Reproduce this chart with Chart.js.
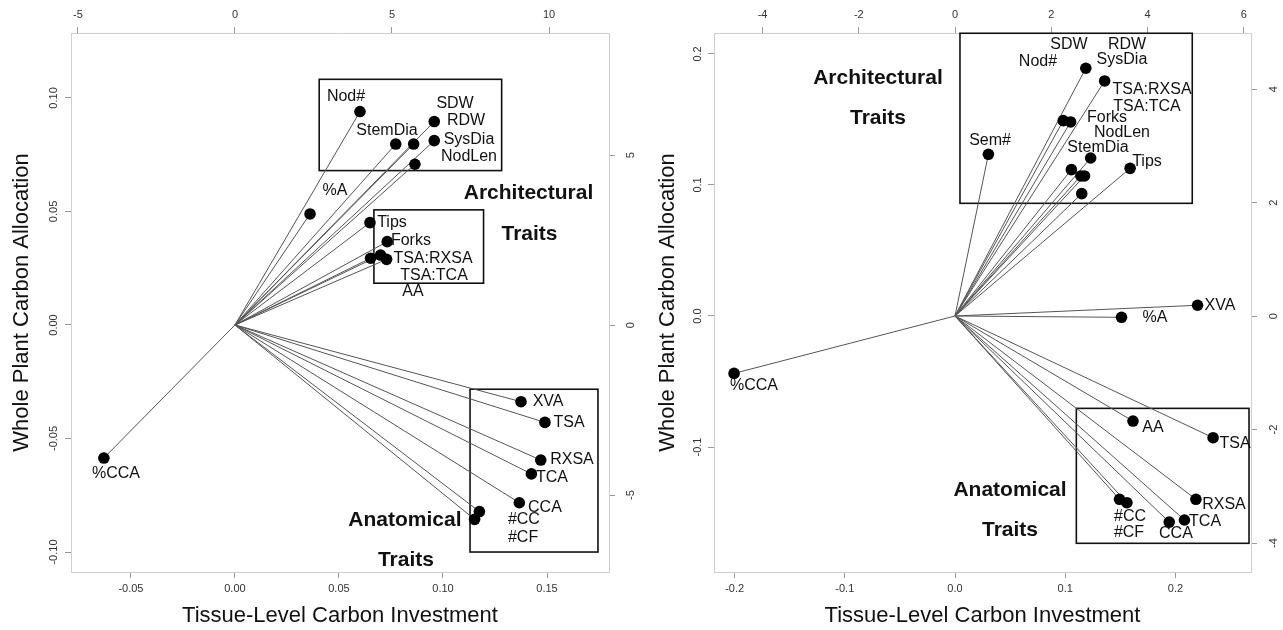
<!DOCTYPE html>
<html>
<head>
<meta charset="utf-8">
<script src="https://cdn.jsdelivr.net/npm/chart.js@4.4.0/dist/chart.umd.min.js"></script>
<style>
  body { margin: 0; background: #fff; }
  #wrap { position: relative; width: 1283px; height: 630px; }
  #leftChart { position: absolute; left: 0; top: 0; }
  #rightChart { position: absolute; left: 640px; top: 0; }
</style>
</head>
<body>
<div id="wrap">
  <canvas id="leftChart" width="640" height="630"></canvas>
  <canvas id="rightChart" width="643" height="630"></canvas>
</div>
<script>
// ---- left panel : trait loadings ----
const leftTraitX = [0.0601, 0.0958, 0.0773, 0.0859, 0.0958, 0.0865, 0.0361, 0.0649, 0.0732, 0.0652, 0.0700, 0.0729,
  0.1375, 0.1490, 0.1470, 0.1425, 0.1367, 0.1175, 0.1152, -0.0630];
const leftTraitY = [0.0940, 0.0896, 0.0797, 0.0797, 0.0812, 0.0708, 0.0489, 0.0451, 0.0367, 0.0294, 0.0308, 0.0289,
  -0.0338, -0.0429, -0.0595, -0.0656, -0.0783, -0.0822, -0.0856, -0.0586];

// trait names and where they were written
const leftLabels = ['Nod#', 'SDW', 'RDW', 'StemDia', 'SysDia', 'NodLen', '%A', 'Tips', 'Forks', 'TSA:RXSA', 'TSA:TCA', 'AA',
  'XVA', 'TSA', 'RXSA', 'TCA', 'CCA', '#CC', '#CF', '%CCA'];
const leftLabelX = [0.0534, 0.1058, 0.1111, 0.0731, 0.1125, 0.1125, 0.0481, 0.0755, 0.0846, 0.0952, 0.0957, 0.0856,
  0.1505, 0.1606, 0.1620, 0.1524, 0.1490, 0.1389, 0.1385, -0.0572];
const leftLabelY = [0.1004, 0.0974, 0.0899, 0.0855, 0.0815, 0.0740, 0.0590, 0.0449, 0.0370, 0.0291, 0.0216, 0.0145,
  -0.0339, -0.0432, -0.0595, -0.0670, -0.0806, -0.0859, -0.0938, -0.0656];

const leftGroups = ['Architectural', 'Traits', 'Anatomical', 'Traits'];
const leftGroupX = [0.1411, 0.1416, 0.0817, 0.0822];
const leftGroupY = [0.0581, 0.0401, -0.0859, -0.1035];

// boxes : [x1, y1, x2, y2]
const leftBoxes = [[0.0405, 0.1082, 0.1282, 0.0680], [0.0668, 0.0507, 0.1195, 0.0184], [0.1130, -0.0283, 0.1745, -0.1000]];

const leftXTicks = [-0.05, 0, 0.05, 0.10, 0.15];
const leftXTickLabels = ['-0.05', '0.00', '0.05', '0.10', '0.15'];
const leftYTicks = [-0.10, -0.05, 0, 0.05, 0.10];
const leftYTickLabels = ['-0.10', '-0.05', '0.00', '0.05', '0.10'];
const leftTopTicks = [-5, 0, 5, 10];
const leftRightTicks = [-5, 0, 5];

// ---- right panel ----
const rightTraitX = [0.0303, 0.1187, 0.1358, 0.0982, 0.1049, 0.1231, 0.1056, 0.1142, 0.1175, 0.1150, 0.1589,
  0.2201, 0.1511, -0.2005, 0.1615, 0.2342, 0.2186, 0.1493, 0.1560, 0.2082, 0.1944];
const rightTraitY = [0.1234, 0.1891, 0.1794, 0.1491, 0.1481, 0.1206, 0.1117, 0.1069, 0.1069, 0.0934, 0.1127,
  0.0082, -0.0010, -0.0438, -0.0802, -0.0929, -0.1399, -0.1399, -0.1425, -0.1557, -0.1573];

const rightLabels = ['SDW', 'RDW', 'Nod#', 'SysDia', 'TSA:RXSA', 'TSA:TCA', 'Forks', 'NodLen', 'StemDia', 'Tips', 'Sem#',
  'XVA', '%A', '%CCA', 'AA', 'TSA', 'RXSA', 'TCA', 'CCA', '#CC', '#CF'];
const rightLabelX = [0.1034, 0.1561, 0.0753, 0.1515, 0.1788, 0.1742, 0.1379, 0.1515, 0.1298, 0.1742, 0.0318,
  0.2405, 0.1815, -0.1824, 0.1797, 0.2541, 0.2441, 0.2269, 0.2005, 0.1588, 0.1579];
const rightLabelY = [0.2069, 0.2069, 0.1939, 0.1954, 0.1725, 0.1595, 0.1511, 0.1397, 0.1282, 0.1176, 0.1336,
  0.0076, -0.0015, -0.0534, -0.0855, -0.0977, -0.1443, -0.1573, -0.1664, -0.1534, -0.1656];

const rightGroups = ['Architectural', 'Traits', 'Anatomical', 'Traits'];
const rightGroupX = [-0.0699, -0.0699, 0.0499, 0.0499];
const rightGroupY = [0.1817, 0.1511, -0.1328, -0.1634];

const rightBoxes = [[0.0045, 0.2158, 0.2153, 0.0860], [0.1101, -0.0705, 0.2668, -0.1735]];

const rightXTicks = [-0.2, -0.1, 0, 0.1, 0.2];
const rightXTickLabels = ['-0.2', '-0.1', '0.0', '0.1', '0.2'];
const rightYTicks = [-0.1, 0, 0.1, 0.2];
const rightYTickLabels = ['-0.1', '0.0', '0.1', '0.2'];
const rightTopTicks = [-4, -2, 0, 2, 4, 6];
const rightRightTicks = [-4, -2, 0, 2, 4];

const xTitle = 'Tissue-Level Carbon Investment';
const yTitle = 'Whole Plant Carbon Allocation';

Chart.defaults.font.family = '"Liberation Sans", Arial, sans-serif';
Chart.defaults.color = '#222';

// text + boxes drawn on top of the plot
const annotationPlugin = {
  id: 'annotations',
  beforeDatasetsDraw(chart, args, opts) {
    const { ctx, scales: { x, y } } = chart;
    ctx.save();
    ctx.strokeStyle = '#111';
    ctx.lineWidth = 1.6;
    opts.boxes.forEach(b => {
      const x1 = x.getPixelForValue(b[0]), y1 = y.getPixelForValue(b[1]);
      const x2 = x.getPixelForValue(b[2]), y2 = y.getPixelForValue(b[3]);
      ctx.strokeRect(x1, y1, x2 - x1, y2 - y1);
    });
    ctx.restore();
  },
  afterDatasetsDraw(chart, args, opts) {
    const { ctx, scales: { x, y } } = chart;
    ctx.save();
    ctx.textAlign = 'center';
    ctx.textBaseline = 'middle';
    ctx.fillStyle = '#111';
    ctx.font = '16px "Liberation Sans", Arial, sans-serif';
    opts.labels.forEach((t, i) => {
      ctx.fillText(t, x.getPixelForValue(opts.labelX[i]), y.getPixelForValue(opts.labelY[i]));
    });
    ctx.font = 'bold 21px "Liberation Sans", Arial, sans-serif';
    opts.groups.forEach((t, i) => {
      ctx.fillText(t, x.getPixelForValue(opts.groupX[i]), y.getPixelForValue(opts.groupY[i]));
    });
    ctx.restore();
  }
};

function fixedTicks(vals) {
  return s => { s.ticks = vals.map(v => ({ value: v })); };
}

function makeScale(position, min, max, vals, labels, size, pad, title, titlePad) {
  const vertical = position === 'left' || position === 'right';
  const sc = {
    type: 'linear',
    position: position,
    min: min,
    max: max,
    afterBuildTicks: fixedTicks(vals),
    afterFit: s => { if (vertical) s.width = size; else s.height = size; },
    grid: { drawOnChartArea: false, drawTicks: true, tickLength: 6, color: '#999' },
    border: { display: true, color: '#cfcfcf', width: 1 },
    ticks: {
      font: { size: 11 },
      color: '#333',
      padding: pad,
      callback: (v, i) => labels[i]
    },
    title: { display: !!title, text: title, font: { size: 22 }, color: '#111', padding: titlePad }
  };
  if (vertical) {
    sc.ticks.minRotation = 90;
    sc.ticks.maxRotation = 90;
    sc.ticks.crossAlign = 'center';
  }
  return sc;
}

function makePanel(canvas, p) {
  const vectors = [];
  p.xs.forEach((x, i) => {
    vectors.push({ x: 0, y: 0 }, { x: x, y: p.ys[i] }, { x: x, y: null });
  });
  return new Chart(canvas, {
    type: 'scatter',
    data: {
      datasets: [
        {
          data: p.xs.map((x, i) => ({ x: x, y: p.ys[i] })),
          pointRadius: 5.8,
          pointBackgroundColor: '#000',
          pointBorderWidth: 0
        },
        {
          data: vectors,
          showLine: true,
          spanGaps: false,
          pointRadius: 0,
          borderColor: '#555',
          borderWidth: 1
        }
      ]
    },
    options: {
      responsive: false,
      animation: false,
      layout: { padding: 0 },
      plugins: {
        legend: { display: false },
        tooltip: { enabled: false },
        annotations: p.notes
      },
      scales: {
        x: makeScale('bottom', p.xMin, p.xMax, p.xTicks, p.xTickLabels, 58, 4, xTitle, { top: 0, bottom: 1 }),
        y: makeScale('left', p.yMin, p.yMax, p.yTicks, p.yTickLabels, p.leftW, p.yPad, yTitle, { top: p.yTitlePad, bottom: 0 }),
        x2: makeScale('top', p.x2Min, p.x2Max, p.topTicks, p.topTicks.map(String), 33, 5, '', 0),
        y2: makeScale('right', p.y2Min, p.y2Max, p.rightTicks, p.rightTicks.map(String), p.rightW, p.y2Pad, '', 0)
      }
    },
    plugins: [annotationPlugin]
  });
}

makePanel(document.getElementById('leftChart'), {
  xs: leftTraitX, ys: leftTraitY,
  xMin: -0.0788, xMax: 0.1798, yMin: -0.1088, yMax: 0.1286,
  x2Min: -5.22, x2Max: 11.91, y2Min: -7.26, y2Max: 8.59,
  xTicks: leftXTicks, xTickLabels: leftXTickLabels,
  yTicks: leftYTicks, yTickLabels: leftYTickLabels,
  topTicks: leftTopTicks, rightTicks: leftRightTicks,
  leftW: 71, rightW: 31, yPad: -2, y2Pad: 11, yTitlePad: 9,
  notes: { boxes: leftBoxes, labels: leftLabels, labelX: leftLabelX, labelY: leftLabelY,
    groups: leftGroups, groupX: leftGroupX, groupY: leftGroupY }
});

makePanel(document.getElementById('rightChart'), {
  xs: rightTraitX, ys: rightTraitY,
  xMin: -0.2187, xMax: 0.2686, yMin: -0.1954, yMax: 0.2160,
  x2Min: -5.01, x2Max: 6.15, y2Min: -4.51, y2Max: 4.99,
  xTicks: rightXTicks, xTickLabels: rightXTickLabels,
  yTicks: rightYTicks, yTickLabels: rightYTickLabels,
  topTicks: rightTopTicks, rightTicks: rightRightTicks,
  leftW: 74, rightW: 32, yPad: 1, y2Pad: 12, yTitlePad: 15,
  notes: { boxes: rightBoxes, labels: rightLabels, labelX: rightLabelX, labelY: rightLabelY,
    groups: rightGroups, groupX: rightGroupX, groupY: rightGroupY }
});
</script>
</body>
</html>
